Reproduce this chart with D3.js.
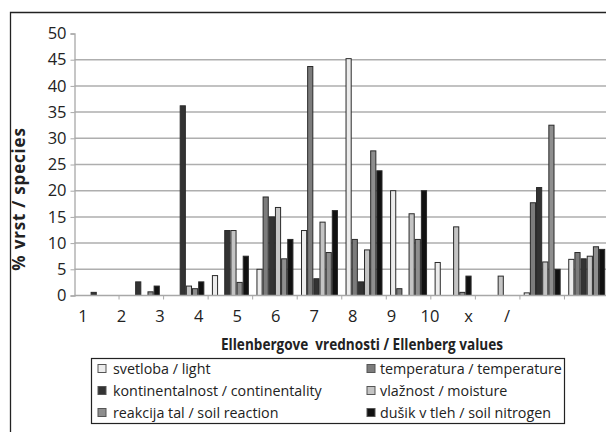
<!DOCTYPE html>
<html lang="sl">
<head>
<meta charset="UTF-8">
<title>Ellenbergove vrednosti</title>
<script src="https://cdn.jsdelivr.net/npm/d3@7/dist/d3.min.js"></script>
<style>
  body { margin: 0; background: #fff; }
  text { font-family: "Open Sans", "Noto Sans", sans-serif; fill: #222; }
</style>
</head>
<body>
<div id="app"></div>
<script>
    var width = 606;
    var height = 432;

    // kategorije in vrednosti (% vrst)
    var categories = ["1", "2", "3", "4", "5", "6", "7", "8", "9", "10", "x", "/"];
    var svetloba    = [0, 0, 0, 3.8, 5.0, 12.4, 45.2, 20.0, 6.3, 0, 0.5, 6.9];
    var temperatura = [0, 0, 0, 0, 18.8, 43.7, 10.7, 1.3, 0, 0, 17.7, 8.2];
    var kontinent   = [0.6, 2.6, 36.2, 12.4, 15.0, 3.2, 2.6, 0, 0, 0, 20.6, 7.0];
    var vlaznost    = [0, 0, 1.8, 12.4, 16.8, 14.0, 8.7, 15.6, 13.1, 3.7, 6.4, 7.5];
    var reakcija    = [0, 0.7, 1.3, 2.5, 7.0, 8.2, 27.6, 10.7, 0.6, 0, 32.5, 9.3];
    var dusik       = [0, 1.8, 2.6, 7.5, 10.7, 16.2, 23.8, 20.0, 3.7, 0, 5.0, 8.8];
    var seriesNames = ["svetloba / light", "temperatura / temperature", "kontinentalnost / continentality",
                       "vlažnost / moisture", "reakcija tal / soil reaction", "dušik v tleh / soil nitrogen"];
    var yTicks = [0, 5, 10, 15, 20, 25, 30, 35, 40, 45, 50];

    var seriesValues = [svetloba, temperatura, kontinent, vlaznost, reakcija, dusik];
    var fills = ["#ececec", "#7c7c7c", "#333333", "#c4c4c4", "#8e8e8e", "#111111"];

    var svg = d3.select("#app").append("svg")
        .attr("width", width)
        .attr("height", height);

    // okvir (obrezan na desni in spodaj)
    svg.append("path")
        .attr("d", "M10.5,432 V12.5 H606")
        .attr("fill", "none")
        .attr("stroke", "#222")
        .attr("stroke-width", 1.3);

    var x = d3.scaleBand().domain(categories).range([74.5, 609]).paddingInner(0.17).paddingOuter(0.085);
    var xs = d3.scaleBand().domain(d3.range(6)).range([0, x.bandwidth()]);
    var y = d3.scaleLinear().domain([0, 50]).range([295.5, 33.5]);
    // oznake kategorij so v izvirniku zamaknjene levo
    var xl = d3.scalePoint().domain(categories).range([83, 507]);

    // mreža
    svg.append("g").selectAll("line")
        .data(yTicks.filter(function (d) { return d > 0 && d < 50; }))
        .enter().append("line")
        .attr("x1", 74.5).attr("x2", width)
        .attr("y1", function (d) { return y(d); })
        .attr("y2", function (d) { return y(d); })
        .attr("stroke", "#aeaeae")
        .attr("stroke-width", 1.5);

    // os y
    var yAxis = svg.append("g")
        .attr("transform", "translate(74.5,0)")
        .call(d3.axisLeft(y).tickValues(yTicks).tickSize(4).tickPadding(4));
    yAxis.select(".domain").attr("stroke", "#a8a8a8").attr("stroke-width", 1.3);
    yAxis.selectAll(".tick line").attr("stroke", "#a8a8a8");
    yAxis.selectAll(".tick text")
        .attr("font-size", 16.5)
        .attr("fill", "#222")
        .style("font-family", "'Open Sans', sans-serif");

    // stolpci
    var groups = svg.append("g").selectAll("g")
        .data(categories)
        .enter().append("g")
        .attr("transform", function (d) { return "translate(" + x(d) + ",0)"; });

    groups.selectAll("rect")
        .data(function (d, i) {
            return seriesValues.map(function (vals, s) { return { s: s, v: vals[i] }; })
                .filter(function (e) { return e.v > 0; });
        })
        .enter().append("rect")
        .attr("x", function (e) { return xs(e.s) + 0.5; })
        .attr("width", xs.bandwidth() - 1)
        .attr("y", function (e) { return y(e.v); })
        .attr("height", function (e) { return y(0) - y(e.v); })
        .attr("fill", function (e) { return fills[e.s]; })
        .attr("stroke", "#2a2a2a")
        .attr("stroke-width", 1);

    // os x
    svg.append("line")
        .attr("x1", 74.5).attr("x2", width)
        .attr("y1", y(0)).attr("y2", y(0))
        .attr("stroke", "#a8a8a8").attr("stroke-width", 1.5);
    svg.append("g").selectAll("line")
        .data(categories.slice(1))
        .enter().append("line")
        .attr("x1", function (d) { return x(d) - x.step() * x.paddingInner() / 2; })
        .attr("x2", function (d) { return x(d) - x.step() * x.paddingInner() / 2; })
        .attr("y1", y(0)).attr("y2", y(0) + 4)
        .attr("stroke", "#a8a8a8");

    svg.append("g").selectAll("text")
        .data(categories)
        .enter().append("text")
        .attr("x", function (d) { return xl(d); })
        .attr("y", 321.5)
        .attr("text-anchor", "middle")
        .attr("font-size", 16.5)
        .text(function (d) { return d; });

    // naslovi osi
    svg.append("text")
        .attr("x", 362).attr("y", 350)
        .attr("text-anchor", "middle")
        .attr("font-size", 15.5)
        .attr("font-weight", "bold")
        .attr("textLength", 282)
        .attr("lengthAdjust", "spacingAndGlyphs")
        .style("white-space", "pre")
        .text("Ellenbergove  vrednosti / Ellenberg values");

    svg.append("text")
        .attr("transform", "translate(25,199) rotate(-90)")
        .attr("text-anchor", "middle")
        .attr("font-size", 17)
        .attr("font-weight", "bold")
        .attr("letter-spacing", 0.8)
        .text("% vrst / species");

    // legenda
    var legend = svg.append("g").attr("transform", "translate(91.5,358.5)");
    legend.append("rect")
        .attr("width", 473).attr("height", 65)
        .attr("fill", "#fff").attr("stroke", "#222").attr("stroke-width", 1.2);

    var items = legend.selectAll("g")
        .data(seriesNames)
        .enter().append("g")
        .attr("transform", function (d, i) {
            return "translate(" + (i % 2 === 0 ? 6.5 : 275.5) + "," + (10 + Math.floor(i / 2) * 22) + ")";
        });
    items.append("rect")
        .attr("y", -4).attr("width", 8).attr("height", 8)
        .attr("fill", function (d, i) { return fills[i]; })
        .attr("stroke", "#555").attr("stroke-width", 1);
    items.append("text")
        .attr("x", function (d, i) { return i % 2 === 0 ? 15 : 13; })
        .attr("y", 5)
        .attr("font-size", 14.3)
        .text(function (d) { return d; });
</script>
</body>
</html>
